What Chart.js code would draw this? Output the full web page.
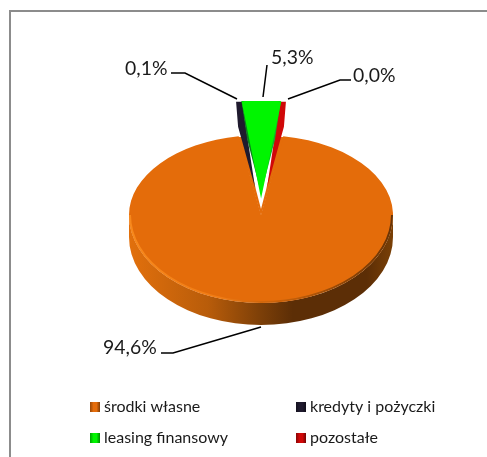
<!DOCTYPE html>
<html>
<head>
<meta charset="utf-8">
<style>
  html, body { margin: 0; padding: 0; background: #fff; overflow: hidden; }
  #frame { position: absolute; left: 9px; top: 10px; right: 0; bottom: 0; border-left: 2px solid #8c8c8c; border-top: 2px solid #8c8c8c; }
  #myChart { position: absolute; left: 0; top: 0; }
</style>
<script src="https://cdn.jsdelivr.net/npm/chart.js@4"></script>
</head>
<body>
<div id="frame"></div>
<canvas id="myChart" width="487" height="457"></canvas>
<script>
// Data
const categories = ['środki własne', 'kredyty i pożyczki', 'leasing finansowy', 'pozostałe'];
const shares = [94.6, 0.1, 5.3, 0.0];
const sliceColors = ['#e46c0a', '#1f1a2e', '#00f500', '#d00808'];
const sliceOffsets = [0, 84, 100, 84];

// Layout of the texts around the pie
const labelPositions = [[103, 354], [125, 75], [271, 64], [353, 82]];
const leaderLines = [
    [[161, 353], [173, 353], [261, 327]],
    [[171, 73], [185, 73], [237, 99]],
    [[267, 65], [263, 97]],
    [[351, 80], [340, 80], [288, 99]]
];
const legendCells = [[90, 412], [296, 412], [90, 443], [296, 443]];

const RIM_UPPER = 80 / 132; // far half of the big slice
const RIM_LOWER = 88 / 132; // near half of the big slice
const WALL_X = 0.85;        // thin slices lie further back
const GREEN_X = 0.9;
const FAR_Y = 0.66;
const WALL = 22;
const SHIFT = 42;           // how far the small slices are pulled out
const GREEN_TOP = 101;

function shade(ctx, x0, x1, stops) {
    const g = ctx.createLinearGradient(x0, 0, x1, 0);
    stops.forEach(function(s) { g.addColorStop(s[0], s[1]); });
    return g;
}

function fillPath(ctx, color, points) {
    ctx.fillStyle = color;
    ctx.beginPath();
    points.forEach(function(p, i) {
        if (i === 0) ctx.moveTo(p[0], p[1]); else ctx.lineTo(p[0], p[1]);
    });
    ctx.closePath();
    ctx.fill();
}

// Wall under the front rim of the big slice
function drawFrontWall(ctx, arc) {
    const r = arc.outerRadius;
    const ry = r * RIM_LOWER;
    ctx.beginPath();
    ctx.ellipse(arc.x, arc.y + WALL, r, ry, 0, 0, Math.PI);
    ctx.ellipse(arc.x, arc.y, r, ry, 0, Math.PI, 0, true);
    ctx.closePath();
    ctx.fillStyle = shade(ctx, arc.x - r, arc.x + r, [
        [0, '#e2700c'], [0.3, '#b85c0a'], [0.5, '#7c3f08'],
        [0.62, '#5c2e06'], [0.9, '#5c2e06'], [1, '#7a4006']
    ]);
    ctx.fill();
}

// Soft edge between the top face and the wall
function drawRimLight(ctx, arc) {
    const r = arc.outerRadius;
    const ry = r * RIM_LOWER;
    ctx.lineWidth = 2;
    ctx.strokeStyle = shade(ctx, arc.x - r, arc.x + r, [
        [0, 'rgba(250,140,30,0.9)'], [0.35, 'rgba(245,130,25,0.7)'], [0.55, 'rgba(180,90,10,0.5)'],
        [0.8, 'rgba(110,55,5,0.7)'], [1, 'rgba(90,45,5,0.9)']
    ]);
    ctx.beginPath();
    ctx.ellipse(arc.x, arc.y, r - 1, ry - 1, 0, 0, Math.PI);
    ctx.stroke();
}

function drawBigSlice(ctx, chart, arc) {
    const half = [
        [RIM_UPPER, 0, arc.y],
        [RIM_LOWER, arc.y, chart.height - arc.y]
    ];
    half.forEach(function(h) {
        ctx.save();
        ctx.beginPath();
        ctx.rect(0, h[1], chart.width, h[2]);
        ctx.clip();
        ctx.translate(arc.x, arc.y);
        ctx.scale(1, h[0]);
        ctx.translate(-arc.x, -arc.y);
        arc.draw(ctx);
        ctx.restore();
    });
    // perspective closes the notch: only a thin white spike stays open
    const x = arc.x;
    const y = arc.y;
    const top = y - 78;
    fillPath(ctx, arc.options.backgroundColor, [
        [x - 23, top], [x - 17, top], [x - 5, y - 25], [x, y - 6],
        [x + 5, y - 25], [x + 17, top], [x + 23, top], [x, y + 1]
    ]);
}

// The thin slices only show their side wall
function drawSideWall(ctx, arc) {
    const mid = (arc.startAngle + arc.endAngle) / 2;
    const a = arc.startAngle;
    const ax = arc.x + WALL_X * SHIFT * Math.cos(mid);
    const ay = arc.y + FAR_Y * SHIFT * Math.sin(mid);
    const rx = ax + WALL_X * arc.outerRadius * Math.cos(a);
    const ry = ay + FAR_Y * arc.outerRadius * Math.sin(a);
    const side = rx < ax ? 1 : -1;
    fillPath(ctx, arc.options.backgroundColor, [
        [rx, ry], [rx + side * 6, ry], [rx + side * 12, ry + 40],
        [ax, ay], [rx + side * 2, ry + WALL + 3]
    ]);
}

// Green slice: dark sides below, bright face on top, cut flat at the far rim
function drawGreenSlice(ctx, chart, arc) {
    const half = (arc.endAngle - arc.startAngle) / 2;
    const mid = arc.startAngle + half;
    const ax = arc.x + GREEN_X * SHIFT * Math.cos(mid);
    const ay = arc.y + FAR_Y * SHIFT * Math.sin(mid);
    const dx = GREEN_X * arc.outerRadius * Math.sin(half);
    fillPath(ctx, '#0a7d1c', [
        [ax - dx, GREEN_TOP], [ax, GREEN_TOP], [ax, ay + 6], [ax - dx * 0.7, GREEN_TOP + 39]
    ]);
    fillPath(ctx, '#15ad2c', [
        [ax + dx, GREEN_TOP], [ax, GREEN_TOP], [ax, ay + 6], [ax + dx * 0.7, GREEN_TOP + 39]
    ]);

    ctx.save();
    ctx.beginPath();
    ctx.rect(0, GREEN_TOP, chart.width, chart.height);
    ctx.clip();
    ctx.translate(arc.x, arc.y);
    ctx.scale(GREEN_X, FAR_Y);
    ctx.translate(-arc.x, -arc.y);
    arc.draw(ctx);
    ctx.restore();
}

const pie3d = {
    id: 'pie3d',
    beforeDatasetsDraw(chart) {
        const ctx = chart.ctx;
        const arcs = chart.getDatasetMeta(0).data;
        ctx.save();
        drawFrontWall(ctx, arcs[0]);
        drawBigSlice(ctx, chart, arcs[0]);
        drawRimLight(ctx, arcs[0]);
        drawSideWall(ctx, arcs[1]);
        drawSideWall(ctx, arcs[3]);
        drawGreenSlice(ctx, chart, arcs[2]);
        ctx.restore();
        return false;
    },
    afterDraw(chart) {
        const ctx = chart.ctx;
        ctx.save();
        // percent labels with their leader lines
        ctx.strokeStyle = '#000';
        ctx.lineWidth = 1.5;
        leaderLines.forEach(function(line) {
            ctx.beginPath();
            line.forEach(function(p, i) {
                if (i === 0) ctx.moveTo(p[0], p[1]); else ctx.lineTo(p[0], p[1]);
            });
            ctx.stroke();
        });
        ctx.fillStyle = '#1a1a1a';
        ctx.font = '19.4px Lato';
        ctx.textBaseline = 'alphabetic';
        shares.forEach(function(v, i) {
            const text = v.toFixed(1).replace('.', ',') + '%';
            ctx.fillText(text, labelPositions[i][0], labelPositions[i][1]);
        });
        // legend in two columns
        ctx.font = '16px Lato';
        categories.forEach(function(name, i) {
            const x = legendCells[i][0];
            const y = legendCells[i][1];
            ctx.fillStyle = sliceColors[i];
            ctx.fillRect(x, y - 10, 10, 10);
            ctx.fillStyle = shade(ctx, x, x + 10, [
                [0, 'rgba(0,0,0,0.35)'], [0.35, 'rgba(0,0,0,0)'], [0.65, 'rgba(0,0,0,0)'], [1, 'rgba(0,0,0,0.45)']
            ]);
            ctx.fillRect(x, y - 10, 10, 10);
            ctx.fillStyle = '#1a1a1a';
            ctx.fillText(name, x + 14, y);
        });
        ctx.restore();
    }
};

const ctx = document.getElementById('myChart');
const myChart = new Chart(ctx, {
    type: 'pie',
    data: {
        labels: categories,
        datasets: [{
            data: shares,
            backgroundColor: sliceColors,
            borderWidth: 0,
            offset: sliceOffsets
        }]
    },
    options: {
        responsive: false,
        animation: false,
        rotation: 9.7,
        radius: 132,
        layout: { padding: { left: 35, right: 0, top: 0, bottom: 27 } },
        plugins: {
            legend: { display: false },
            tooltip: { enabled: false }
        }
    },
    plugins: [pie3d]
});
</script>
</body>
</html>
